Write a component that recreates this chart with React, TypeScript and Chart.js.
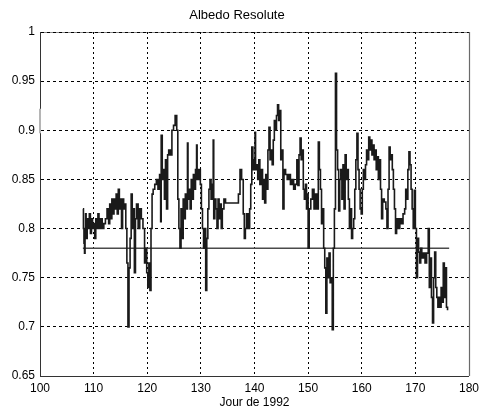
import React, { useEffect, useRef } from "react";
import { Chart, registerables } from "chart.js";

Chart.register(...registerables);

const titleText = "Albedo Resolute";
const xAxisTitle = "Jour de 1992";
const xTicks = [100, 110, 120, 130, 140, 150, 160, 170, 180];
const yTicks = [0.65, 0.7, 0.75, 0.8, 0.85, 0.9, 0.95, 1];

// Day of year 1992 (parallel to albedo)
const days = [
  108.0, 108.1, 108.2, 108.3, 108.4, 108.5, 108.6, 108.8, 109.0, 109.2,
  109.4, 109.6, 109.8, 110.0, 110.2, 110.4, 110.6, 110.8, 111.0, 111.3,
  111.6, 111.9, 112.2, 112.5, 112.8, 113.0, 113.2, 113.4, 113.6, 113.8,
  114.0, 114.2, 114.4, 114.6, 114.8, 115.0, 115.2, 115.4, 115.6, 115.8,
  116.0, 116.2, 116.4, 116.6, 116.8, 117.0, 117.2, 117.4, 117.6, 117.8,
  118.0, 118.3, 118.6, 118.9, 119.2, 119.5, 119.7, 119.9, 120.1, 120.3,
  120.5, 120.7, 120.9, 121.1, 121.4, 121.7, 122.0, 122.3, 122.5, 122.6,
  122.8, 123.0, 123.2, 123.4, 123.6, 123.8, 124.0, 124.3, 124.6, 124.9,
  125.2, 125.5, 125.7, 125.9, 126.1, 126.3, 126.5, 126.7, 126.9, 127.1,
  127.3, 127.5, 127.6, 127.8, 128.0, 128.2, 128.4, 128.6, 128.8, 129.0,
  129.2, 129.3, 129.6, 129.9, 130.1, 130.3, 130.5, 130.7, 130.9, 131.1,
  131.3, 131.5, 131.7, 131.9, 132.1, 132.3, 132.4, 132.6, 132.8, 133.0,
  133.2, 133.4, 133.6, 133.8, 134.0, 134.3, 134.6, 137.0, 137.3, 137.6,
  137.9, 138.1, 138.3, 138.5, 138.8, 139.1, 139.3, 139.5, 139.7, 139.9,
  140.1, 140.2, 140.4, 140.6, 140.8, 141.0, 141.3, 141.5, 141.7, 141.9,
  142.1, 142.3, 142.5, 142.7, 142.9, 143.1, 143.3, 143.5, 143.7, 143.9,
  144.1, 144.3, 144.5, 144.7, 144.9, 145.1, 145.3, 145.5, 145.8, 146.1,
  146.4, 146.7, 147.0, 147.3, 147.6, 147.9, 148.1, 148.3, 148.5, 148.7,
  148.9, 149.1, 149.3, 149.5, 149.7, 149.9, 150.0, 150.2, 150.5, 150.8,
  151.1, 151.4, 151.7, 151.9, 152.1, 152.3, 152.5, 152.7, 152.9, 153.1,
  153.3, 153.5, 153.7, 153.9, 154.1, 154.3, 154.5, 154.7, 154.9, 155.1,
  155.3, 155.5, 155.7, 155.9, 156.1, 156.3, 156.5, 156.7, 156.9, 157.1,
  157.3, 157.5, 157.7, 157.9, 158.1, 158.3, 158.5, 158.7, 158.9, 159.1,
  159.3, 159.5, 159.7, 159.9, 160.1, 160.3, 160.5, 160.7, 160.9, 161.1,
  161.3, 161.5, 161.7, 161.9, 162.1, 162.3, 162.5, 162.7, 162.9, 163.1,
  163.3, 163.5, 163.7, 163.9, 164.2, 164.5, 164.7, 164.9, 165.1, 165.3,
  165.5, 165.7, 165.9, 166.1, 166.3, 166.5, 166.8, 167.1, 167.4, 167.7,
  168.0, 168.2, 168.4, 168.6, 168.8, 169.0, 169.2, 169.4, 169.6, 169.8,
  170.0, 170.2, 170.4, 170.6, 170.8, 171.0, 171.2, 171.5, 171.8, 172.1,
  172.4, 172.6, 172.8, 173.0, 173.2, 173.4, 173.6, 173.8, 174.0, 174.2,
  174.4, 174.6, 174.8, 175.0, 175.2, 175.4, 175.6, 175.8, 176.0,
];

const albedo = [
  0.820, 0.800, 0.785, 0.775, 0.800, 0.815, 0.790, 0.810, 0.800, 0.815,
  0.795, 0.810, 0.800, 0.805, 0.790, 0.810, 0.800, 0.815, 0.800, 0.810,
  0.800, 0.805, 0.810, 0.820, 0.805, 0.825, 0.810, 0.830, 0.815, 0.830,
  0.820, 0.835, 0.815, 0.840, 0.820, 0.830, 0.800, 0.830, 0.820, 0.825,
  0.800, 0.765, 0.700, 0.760, 0.790, 0.835, 0.800, 0.820, 0.755, 0.810,
  0.825, 0.800, 0.820, 0.810, 0.800, 0.765, 0.780, 0.755, 0.740, 0.765,
  0.737, 0.800, 0.835, 0.840, 0.845, 0.850, 0.840, 0.855, 0.807, 0.895,
  0.850, 0.860, 0.830, 0.870, 0.820, 0.875, 0.880, 0.875, 0.900, 0.905,
  0.915, 0.900, 0.830, 0.800, 0.780, 0.820, 0.790, 0.830, 0.810, 0.835,
  0.820, 0.887, 0.830, 0.840, 0.820, 0.850, 0.830, 0.855, 0.840, 0.860,
  0.885, 0.850, 0.860, 0.845, 0.820, 0.800, 0.780, 0.800, 0.737, 0.790,
  0.820, 0.840, 0.850, 0.830, 0.845, 0.890, 0.810, 0.830, 0.820, 0.800,
  0.830, 0.810, 0.825, 0.800, 0.820, 0.830, 0.826, 0.835, 0.860, 0.850,
  0.815, 0.790, 0.800, 0.815, 0.800, 0.820, 0.845, 0.883, 0.860, 0.870,
  0.898, 0.860, 0.865, 0.850, 0.870, 0.845, 0.860, 0.830, 0.850, 0.826,
  0.855, 0.840, 0.880, 0.903, 0.870, 0.880, 0.865, 0.890, 0.910, 0.900,
  0.915, 0.926, 0.910, 0.920, 0.870, 0.880, 0.820, 0.860, 0.855, 0.850,
  0.855, 0.845, 0.850, 0.840, 0.845, 0.870, 0.844, 0.875, 0.892, 0.870,
  0.880, 0.840, 0.830, 0.845, 0.820, 0.835, 0.780, 0.820, 0.830, 0.840,
  0.820, 0.835, 0.820, 0.888, 0.860, 0.840, 0.805, 0.820, 0.780, 0.760,
  0.714, 0.770, 0.750, 0.775, 0.745, 0.750, 0.697, 0.780, 0.820, 0.958,
  0.880, 0.860, 0.818, 0.850, 0.860, 0.830, 0.865, 0.820, 0.875, 0.850,
  0.860, 0.830, 0.800, 0.820, 0.790, 0.800, 0.810, 0.840, 0.870, 0.897,
  0.860, 0.840, 0.820, 0.815, 0.840, 0.860, 0.850, 0.865, 0.880, 0.870,
  0.893, 0.880, 0.890, 0.875, 0.885, 0.870, 0.880, 0.860, 0.873, 0.850,
  0.870, 0.840, 0.810, 0.830, 0.827, 0.820, 0.800, 0.840, 0.883, 0.870,
  0.875, 0.860, 0.840, 0.820, 0.795, 0.810, 0.800, 0.810, 0.805, 0.815,
  0.820, 0.840, 0.830, 0.860, 0.878, 0.865, 0.840, 0.820, 0.800, 0.839,
  0.800, 0.750, 0.790, 0.776, 0.765, 0.780, 0.770, 0.775, 0.765, 0.775,
  0.800, 0.740, 0.770, 0.730, 0.704, 0.750, 0.776, 0.740, 0.730, 0.720,
  0.730, 0.720, 0.740, 0.725, 0.765, 0.730, 0.760, 0.720, 0.717,
];

// Horizontal reference level
const refDays = [108, 176.3];
const refValues = [0.78, 0.78];

// Short light segment on the left edge
const edgeDays = [100, 100];
const edgeValues = [0.922, 0.897];

const FONT = "'Liberation Sans', Arial, Helvetica, sans-serif";

export default function App() {
  const canvasRef = useRef<HTMLCanvasElement>(null);

  useEffect(() => {
    const canvas = canvasRef.current;
    if (!canvas) return;

    const framePlugin = {
      id: "frame",
      beforeDraw(chart: any) {
        const { ctx, chartArea: a } = chart;
        ctx.save();
        ctx.fillStyle = "#fff";
        ctx.fillRect(0, 0, chart.width, chart.height);
        ctx.strokeStyle = "#8a8a8a";
        ctx.lineWidth = 1;
        ctx.beginPath();
        ctx.moveTo(a.left, Math.round(a.top) + 0.5);
        ctx.lineTo(a.right, Math.round(a.top) + 0.5);
        ctx.stroke();
        ctx.restore();
      },
      beforeDatasetsDraw(chart: any) {
        const { ctx, chartArea: a } = chart;
        ctx.save();
        ctx.strokeStyle = "#6a6a6a";
        ctx.lineWidth = 1.2;
        ctx.beginPath();
        ctx.moveTo(Math.round(a.right) + 0.5, a.top);
        ctx.lineTo(Math.round(a.right) + 0.5, a.bottom);
        ctx.stroke();
        ctx.restore();
      },
    };

    const chart = new Chart(canvas, {
      type: "line",
      data: {
        datasets: [
          {
            data: days.map((d, i) => ({ x: d, y: albedo[i] })),
            borderColor: "#1a1a1a",
            borderWidth: 1.6,
            pointRadius: 0,
            stepped: true,
            fill: false,
          },
          {
            data: refDays.map((d, i) => ({ x: d, y: refValues[i] })),
            borderColor: "#4a4a4a",
            borderWidth: 1.5,
            pointRadius: 0,
            fill: false,
          },
          {
            data: edgeDays.map((d, i) => ({ x: d, y: edgeValues[i] })),
            borderColor: "#b5b5b5",
            borderWidth: 2,
            pointRadius: 0,
            fill: false,
            clip: false,
          },
        ],
      },
      options: {
        animation: false,
        responsive: false,
        events: [],
        layout: { padding: { left: 0, right: 10, top: 0, bottom: 0 } },
        plugins: {
          legend: { display: false },
          tooltip: { enabled: false },
          title: {
            display: true,
            text: titleText,
            color: "#000",
            font: { family: FONT, size: 13, weight: "normal" },
            padding: { top: 8, bottom: 8.4 },
          },
        },
        scales: {
          x: {
            type: "linear",
            min: 100,
            max: 180,
            afterFit(scale: any) {
              scale.height = 35;
            },
            afterBuildTicks(scale: any) {
              scale.ticks = xTicks.map((v) => ({ value: v }));
            },
            ticks: {
              autoSkip: false,
              maxRotation: 0,
              padding: 5,
              color: "#000",
              font: { family: FONT, size: 12 },
              callback: (v: any) => String(v),
            },
            grid: {
              drawTicks: false,
              lineWidth: 1,
              color: (ctx: any) =>
                ctx.tick && (ctx.tick.value === 180 || ctx.tick.value === 100)
                  ? "rgba(0,0,0,0)"
                  : "#000",
            },
            border: { display: true, color: "#333", width: 1, dash: [2, 3] },
            title: {
              display: true,
              text: xAxisTitle,
              color: "#000",
              font: { family: FONT, size: 12 },
              padding: { top: 0, bottom: 1 },
            },
          },
          y: {
            type: "linear",
            min: 0.65,
            max: 1,
            afterFit(scale: any) {
              scale.width = 40;
            },
            afterBuildTicks(scale: any) {
              scale.ticks = yTicks.map((v) => ({ value: v }));
            },
            ticks: {
              padding: 5,
              color: "#000",
              font: { family: FONT, size: 12 },
              callback: (v: any) => String(Number(Number(v).toFixed(2))),
            },
            grid: {
              drawTicks: false,
              lineWidth: 1,
              color: (ctx: any) =>
                ctx.tick && ctx.tick.value === 0.65 ? "rgba(0,0,0,0)" : "#000",
            },
            border: { display: true, color: "#333", width: 1, dash: [3, 3] },
          },
        },
      },
      plugins: [framePlugin],
    } as any);

    return () => chart.destroy();
  }, []);

  return (
    <div
      style={{
        position: "fixed",
        left: 0,
        top: 0,
        width: 484,
        height: 411,
        background: "#fff",
      }}
    >
      <canvas
        ref={canvasRef}
        width={484}
        height={411}
        style={{ width: 484, height: 411, display: "block" }}
      />
    </div>
  );
}
